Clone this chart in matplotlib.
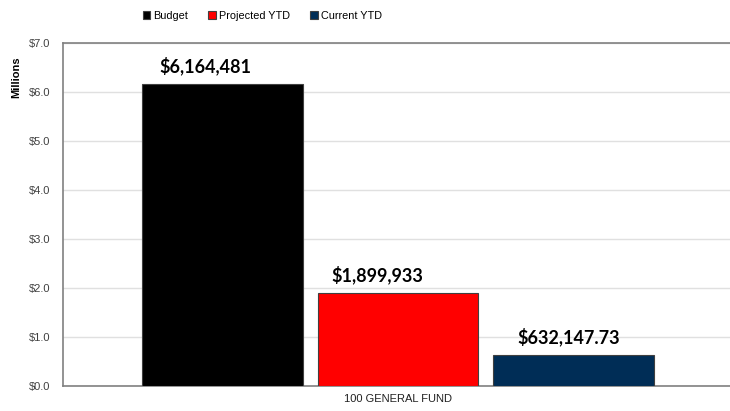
import matplotlib
matplotlib.use("Agg")
import matplotlib.pyplot as plt
import numpy as np

# данные по фонду
category = "100 GENERAL FUND"
series = ["Budget", "Projected YTD", "Current YTD"]
values = [6164481, 1899933, 632147.73]
labels = ["$6,164,481", "$1,899,933", "$632,147.73"]
colors = ["#000000", "#ff0000", "#002d56"]
yticks = [0, 1, 2, 3, 4, 5, 6, 7]

plt.rcParams["font.family"] = ["Liberation Sans", "DejaVu Sans"]

fig = plt.figure(figsize=(7.3, 4.11), dpi=100)
ax = fig.add_axes([0.0863, 0.0608, 0.918, 0.8346])

width = 0.24
step = 0.2624
offsets = (np.arange(len(values)) - 1) * step
millions = np.array(values) / 1e6

bars = []
for i, (off, v) in enumerate(zip(offsets, millions)):
    b = ax.bar(off, v, width=width, color=colors[i], edgecolor="#404040",
               linewidth=0.8, label=series[i], zorder=3)
    bars.append(b)

# подписи значений над столбцами (сдвинуты немного влево)
shift_x = [-12, -15, -4]
for off, v, txt, dx in zip(offsets, millions, labels, shift_x):
    ax.annotate(txt, (off, v), xytext=(dx, 6), textcoords="offset points",
                ha="center", va="bottom", fontsize=13, fontweight="bold",
                family=["Lato", "DejaVu Sans"], color="#000000")

ax.set_xlim(-0.5, 0.5)
ax.set_ylim(0, 7)
ax.set_yticks(yticks)
ax.set_yticklabels(["${:.1f}".format(t) for t in yticks], fontsize=8,
                   color="#404040")
ax.set_xticks([0])
ax.set_xticklabels([category], fontsize=8, color="#202020")
ax.tick_params(axis="y", length=0, pad=9)
ax.tick_params(axis="x", length=0, pad=6)

ax.yaxis.grid(True, color="#e0e0e0", linewidth=1, zorder=0)
for side in ["left", "bottom", "top"]:
    ax.spines[side].set_color("#808080")
    ax.spines[side].set_linewidth(1.2)
ax.spines["right"].set_visible(False)

ax.set_ylabel("Millions", fontsize=8, fontweight="bold")
ax.yaxis.set_label_coords(-0.063, 0.9)

fig.legend(handles=[b[0] for b in bars], labels=series, loc="center",
           bbox_to_anchor=(0.359, 0.962), ncol=3, frameon=False, fontsize=7.8,
           handlelength=0.7, handleheight=0.7, handletextpad=0.25,
           columnspacing=1.9)

plt.savefig("out.png", dpi=100)
